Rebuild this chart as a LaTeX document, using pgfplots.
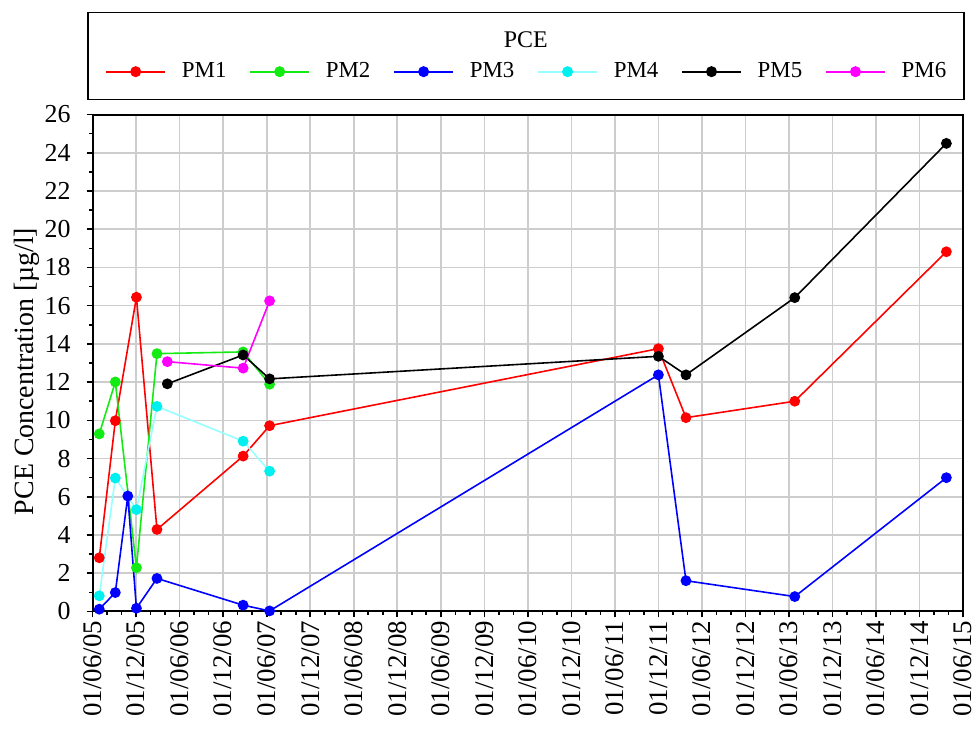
\documentclass[border=0pt]{standalone}
\usepackage{fontspec}
\setmainfont{Liberation Serif}
\usepackage{pgfplots}
\pgfplotsset{compat=1.18}
\definecolor{pmred}{RGB}{255,0,0}
\definecolor{pmgreen}{RGB}{20,235,20}
\definecolor{pmblue}{RGB}{0,0,255}
\definecolor{pmcyan}{RGB}{0,240,240}
\definecolor{pmcyanl}{RGB}{150,255,255}
\definecolor{pmmag}{RGB}{255,0,255}
\definecolor{gridc}{RGB}{205,205,205}
\begin{document}
\begin{tikzpicture}
\begin{axis}[name=ax, scale only axis, width=437pt, height=249.5pt,
 xmin=0,xmax=120,ymin=0,ymax=26,
 xtick={0,6,...,120},
 minor xtick={2,4,8,10,14,16,20,22,26,28,32,34,38,40,44,46,50,52,56,58,62,64,68,70,74,76,80,82,86,88,92,94,98,100,104,106,110,112,116,118},
 xticklabels={01/06/05,01/12/05,01/06/06,01/12/06,01/06/07,01/12/07,01/06/08,01/12/08,01/06/09,01/12/09,01/06/10,01/12/10,01/06/11,01/12/11,01/06/12,01/12/12,01/06/13,01/12/13,01/06/14,01/12/14,01/06/15},
 x tick label style={rotate=90,anchor=east,font=\fontsize{13.5}{16}\selectfont,inner sep=1.5pt},
 ytick={0,2,...,26},
 minor ytick={1,3,...,25},
 y tick label style={font=\fontsize{13}{15}\selectfont, xshift=-4.5pt},
 /pgf/number format/assume math mode=true,
 tick align=outside, xtick pos=bottom, ytick pos=left,
 major tick length=3pt, minor tick length=1.7pt,
 tick style={black, line width=0.8pt},
 xmajorgrids=true, ymajorgrids=true, xminorgrids=false, yminorgrids=false,
 major grid style={color=gridc, line width=0.8pt},
 axis line style={line width=1pt},
 ylabel={PCE Concentration [µg/l]},
 ylabel style={at={(axis description cs:-0.0755,0.483)},anchor=center,font=\fontsize{14}{16}\selectfont},
 clip=false,
 legend columns=6,
 legend style={at={(0.5,1.0862)},anchor=center,draw=none,fill=none,font=\fontsize{11.5}{13}\selectfont,
   /tikz/every odd column/.append style={column sep=6pt},
   /tikz/every even column/.append style={column sep=9.5pt}},
 legend image code/.code={\draw[line width=0.9pt,mark repeat=2,mark phase=2] plot coordinates {(0pt,0pt)(14.75pt,0pt)(29.5pt,0pt)};},
 every axis plot/.append style={line width=0.8pt, mark=*, mark size=2.3pt},
]
\addplot[color=pmred, mark=*] coordinates {(0.92,2.81)(3.13,9.98)(6.04,16.44)(8.87,4.29)(20.75,8.13)(24.4,9.72)(78.0,13.75)(81.8,10.14)(96.8,11.0)(117.7,18.82)};
\addlegendentry{PM1}
\addplot[color=pmgreen, mark=*] coordinates {(0.92,9.29)(3.13,12.01)(6.04,2.29)(8.87,13.49)(20.75,13.58)(24.4,11.89)};
\addlegendentry{PM2}
\addplot[color=pmblue, mark=*] coordinates {(0.92,0.12)(3.13,0.99)(4.85,6.04)(6.04,0.17)(8.87,1.73)(20.75,0.33)(24.4,0.03)(78.0,12.38)(81.8,1.61)(96.8,0.78)(117.7,7.0)};
\addlegendentry{PM3}
\addplot[color=pmcyanl, mark=*, mark options={draw=pmcyan,fill=pmcyan}] coordinates {(0.92,0.82)(3.13,6.98)(6.04,5.33)(8.87,10.73)(20.75,8.91)(24.4,7.34)};
\addlegendentry{PM4}
\addplot[color=black, mark=*] coordinates {(10.3,11.91)(20.75,13.42)(24.4,12.17)(78.0,13.35)(81.8,12.38)(96.8,16.42)(117.7,24.49)};
\addlegendentry{PM5}
\addplot[color=pmmag, mark=*] coordinates {(10.3,13.07)(20.75,12.73)(24.4,16.25)};
\addlegendentry{PM6}
\end{axis}
\draw[line width=0.85pt] ([xshift=-2.35pt,yshift=7.5pt]ax.north west) rectangle ([xshift=0.5pt,yshift=51.15pt]ax.north east);
\node[font=\fontsize{12}{14}\selectfont] at ([xshift=-1pt,yshift=37.5pt]ax.north) {PCE};
\pgfresetboundingbox
\path ([xshift=-46.5pt,yshift=-58.5pt]ax.south west) rectangle ([xshift=7pt,yshift=57.5pt]ax.north east);
\end{tikzpicture}
\end{document}
